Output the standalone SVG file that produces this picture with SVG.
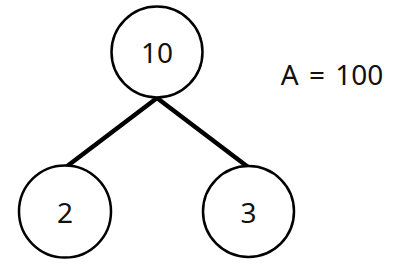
<svg xmlns="http://www.w3.org/2000/svg" width="397" height="268" viewBox="0 0 397 268">
<style>
.n{fill:#fff;stroke:#000;stroke-width:2.5}
.t{font-family:"Noto Sans","Open Sans",sans-serif;font-size:28px;fill:#111;text-anchor:middle}
.e{stroke:#000;stroke-width:4.5;fill:none}
</style>
<rect width="397" height="268" fill="#fff"/>
<g id="edges">
<line class="e" x1="157" y1="98" x2="66" y2="167"/>
<line class="e" x1="157" y1="98" x2="248" y2="167"/>
</g>
<g id="n10"><circle class="n" cx="157" cy="52" r="45.5"/><text class="t" x="157" y="63">10</text></g>
<g id="n2"><circle class="n" cx="65" cy="211.5" r="46"/><text class="t" x="65" y="223">2</text></g>
<g id="n3"><circle class="n" cx="248.5" cy="211.5" r="45.5"/><text class="t" x="248.5" y="223">3</text></g>
<g id="label"><text class="t" x="332" y="85" word-spacing="3">A = 100</text></g>
</svg>
